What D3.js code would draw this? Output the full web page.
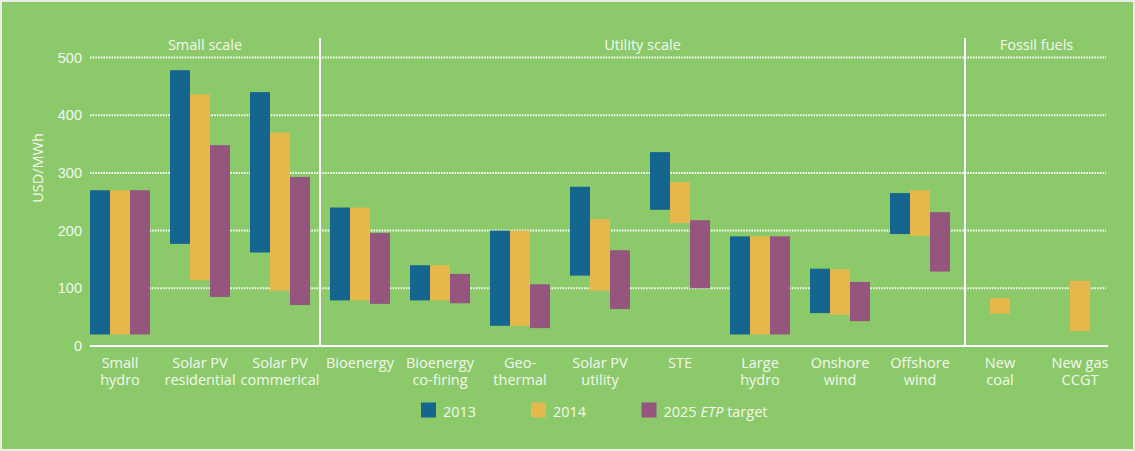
<!DOCTYPE html>
<html>
<head>
<meta charset="utf-8">
<script src="https://cdn.jsdelivr.net/npm/d3@7"></script>
<style>
  body { margin: 0; background: #e9ede6; }
  svg { display: block; font-family: "Open Sans", sans-serif; }
  .lbl { fill: #f3f8ee; font-size: 14.5px; }
</style>
</head>
<body>
<svg id="chart" width="1135" height="451"></svg>
<script>
// 類別與資料 (USD/MWh, 最低值 ~ 最高值)
const categories = ["Small hydro", "Solar PV residential", "Solar PV commerical", "Bioenergy",
  "Bioenergy co-firing", "Geo-thermal", "Solar PV utility", "STE", "Large hydro",
  "Onshore wind", "Offshore wind", "New coal", "New gas CCGT"];
const labelLines = [["Small", "hydro"], ["Solar PV", "residential"], ["Solar PV", "commerical"], ["Bioenergy"],
  ["Bioenergy", "co-firing"], ["Geo-", "thermal"], ["Solar PV", "utility"], ["STE"], ["Large", "hydro"],
  ["Onshore", "wind"], ["Offshore", "wind"], ["New", "coal"], ["New gas", "CCGT"]];

const series = ["2013", "2014", "2025"];
const low2013 = [20, 177, 162, 79, 79, 35, 122, 236, 20, 57, 194, null, null];
const high2013 = [270, 478, 440, 240, 140, 200, 276, 336, 190, 134, 265, null, null];
const low2014 = [20, 114, 96, 79, 79, 35, 96, 213, 20, 54, 191, 56, 26];
const high2014 = [270, 436, 370, 240, 140, 200, 220, 284, 190, 133, 270, 83, 113];
const low2025 = [20, 85, 71, 73, 74, 31, 64, 100, 20, 43, 129, null, null];
const high2025 = [270, 348, 293, 196, 125, 107, 166, 218, 190, 111, 232, null, null];

const yTicks = [0, 100, 200, 300, 400, 500];
const groupNames = ["Small scale", "Utility scale", "Fossil fuels"];
const groupStarts = ["Small hydro", "Bioenergy", "New coal"];

const colors = { "2013": "#14668e", "2014": "#e6b84b", "2025": "#94557f" };

const svg = d3.select('#chart');
const W = 1135, H = 451;

// 背景
svg.append('rect').attr('x', 2).attr('y', 2).attr('width', W - 4).attr('height', H - 4)
  .attr('fill', '#8cc96a');

const x = d3.scaleBand().domain(categories).range([80, 1120])
  .paddingInner(0.25).paddingOuter(0.125);
const xs = d3.scaleBand().domain(series).range([0, x.bandwidth()]);
const y = d3.scaleLinear([0, 500], [346, 57.5]);

// 格線 (虛線)
svg.append('g').selectAll('line').data(yTicks.filter(d => d > 0)).join('line')
  .attr('x1', 90).attr('x2', 1106)
  .attr('y1', d => y(d)).attr('y2', d => y(d))
  .attr('stroke', '#fff').attr('stroke-width', 2).attr('stroke-dasharray', '1.5,1.2');

// 資料整理成長條
const rows = [];
categories.forEach((c, i) => {
  [[low2013, high2013, "2013"], [low2014, high2014, "2014"], [low2025, high2025, "2025"]].forEach(([lo, hi, s]) => {
    if (lo[i] != null) rows.push({ cat: c, s: s, lo: lo[i], hi: hi[i] });
  });
});

svg.append('g').selectAll('rect').data(rows).join('rect')
  .attr('x', d => x(d.cat) + xs(d.s))
  .attr('width', xs.bandwidth())
  .attr('y', d => y(d.hi))
  .attr('height', d => y(d.lo) - y(d.hi))
  .attr('fill', d => colors[d.s]);

// 分隔線
const dividerOffset = [0, 10, 5];
groupStarts.forEach((g, i) => {
  if (i === 0) return;
  const dx = x(g) - dividerOffset[i];
  svg.append('line').attr('x1', dx).attr('x2', dx).attr('y1', 38).attr('y2', y(0))
    .attr('stroke', '#fff').attr('stroke-width', 2);
});

// 群組標題
const bounds = [90, x("Bioenergy") - 10, x("New coal") - 5, 1108];
groupNames.forEach((g, i) => {
  svg.append('text').attr('class', 'lbl')
    .attr('x', (bounds[i] + bounds[i + 1]) / 2).attr('y', 50)
    .attr('text-anchor', 'middle').text(g);
});

// x 軸
svg.append('line').attr('x1', 90).attr('x2', 1108).attr('y1', y(0)).attr('y2', y(0))
  .attr('stroke', '#fff').attr('stroke-width', 2);

const xl = svg.append('g').selectAll('text').data(categories).join('text')
  .attr('class', 'lbl').attr('text-anchor', 'middle')
  .attr('transform', d => `translate(${x(d) + x.bandwidth() / 2},368)`);
xl.selectAll('tspan').data((d, i) => labelLines[i]).join('tspan')
  .attr('x', 0).attr('y', (d, i) => i * 17).text(d => d);

// y 軸
const yAxis = d3.axisLeft(y).tickValues(yTicks).tickSize(0).tickPadding(8);
const yAxisDraw = svg.append('g').attr('transform', 'translate(90,0)').call(yAxis);
yAxisDraw.select('.domain').remove();
yAxisDraw.selectAll('text').attr('class', 'lbl').attr('font-family', null).attr('font-size', null)
  .style('fill', '#f3f8ee');

svg.append('text').attr('class', 'lbl')
  .attr('transform', 'translate(43,168) rotate(-90)')
  .attr('text-anchor', 'middle').text('USD/MWh');

// 圖例
const legendX = [421, 531, 641.5];
series.forEach((s, i) => {
  svg.append('rect').attr('x', legendX[i]).attr('y', 402.5).attr('width', 15).attr('height', 15)
    .attr('fill', colors[s]);
  const t = svg.append('text').attr('class', 'lbl').attr('x', legendX[i] + 22).attr('y', 416.5);
  if (s === "2025") {
    t.append('tspan').text('2025 ');
    t.append('tspan').style('font-style', 'italic').text('ETP');
    t.append('tspan').text(' target');
  } else {
    t.text(s);
  }
});
</script>
</body>
</html>
